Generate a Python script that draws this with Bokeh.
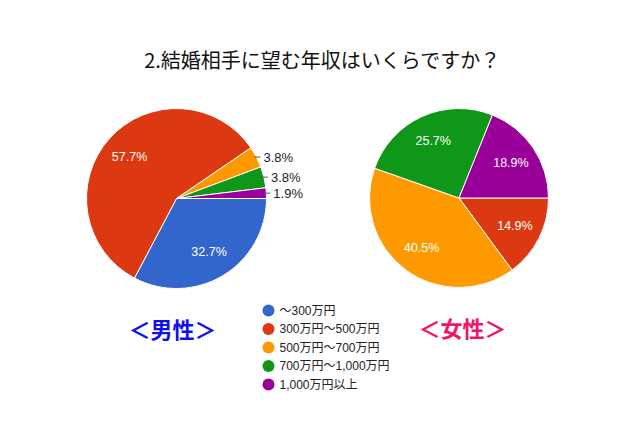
import math
from bokeh.plotting import figure
from bokeh.models import Range1d, ColumnDataSource
from bokeh.core.properties import value
from bokeh.embed import file_html
from bokeh.resources import INLINE

title_text = "2.結婚相手に望む年収はいくらですか？"
categories = ["〜300万円", "300万円〜500万円", "500万円〜700万円", "700万円〜1,000万円", "1,000万円以上"]
colors = ["#3366cc", "#dc3912", "#ff9900", "#109618", "#990099"]
male = [32.7, 57.7, 3.8, 3.8, 1.9]
female = [0.0, 14.9, 40.5, 25.7, 18.9]
group_labels = ["＜男性＞", "＜女性＞"]
group_colors = ["#1010ee", "#f0146c"]

W, H = 624, 411
p = figure(width=W, height=H, output_backend="svg", toolbar_location=None,
           x_range=Range1d(0, W), y_range=Range1d(0, H), min_border=0)
p.axis.visible = False
p.grid.visible = False
p.outline_line_color = None
p.background_fill_color = "white"
p.border_fill_color = "white"

LAT = "Liberation Sans"
JP = "Liberation Sans, Noto Sans CJK JP"

def px(X, Y):
    return X, H - Y

def draw_pie(vals, cxs, cys, r):
    cx, cy = px(cxs, cys)
    total = sum(vals)
    cum = 0.0
    wx, wy, st, en, col = [], [], [], [], []
    inner = dict(x=[], y=[], t=[])
    outer = dict(x=[], y=[], t=[])
    lx0, lx1, ly = [], [], []
    for v, c in zip(vals, colors):
        if v <= 0:
            continue
        a0 = cum / total * 2 * math.pi
        cum += v
        a1 = cum / total * 2 * math.pi
        wx.append(cx); wy.append(cy)
        st.append(-a0); en.append(-a1); col.append(c)
        mid = -(a0 + a1) / 2
        lab = f"{v:.1f}%"
        if v >= 10:
            inner["x"].append(cx + 0.7 * r * math.cos(mid))
            inner["y"].append(cy + 0.7 * r * math.sin(mid))
            inner["t"].append(lab)
        else:
            ex = cx + r * math.cos(mid)
            ey = cy + r * math.sin(mid)
            lx0.append(ex - 2); lx1.append(ex + 4); ly.append(ey)
            outer["x"].append(ex + 7); outer["y"].append(ey); outer["t"].append(lab)
    p.wedge(x=wx, y=wy, radius=r, start_angle=st, end_angle=en, direction="clock",
            fill_color=col, line_color="white", line_width=1)
    p.text(x="x", y="y", text="t", source=ColumnDataSource(inner), text_color="white",
           text_font=value(LAT), text_font_size="12.5px", text_align="center",
           text_baseline="middle")
    if lx0:
        p.segment(x0=lx0, y0=ly, x1=lx1, y1=ly, line_color="#555555", line_width=1)
        p.text(x="x", y="y", text="t", source=ColumnDataSource(outer), text_color="#222222",
               text_font=value(LAT), text_font_size="13px", text_align="left",
               text_baseline="middle")

draw_pie(male, 176, 198, 90)
draw_pie(female, 458.5, 197.5, 89.5)

# title
tx, ty = px(322, 59)
p.text(x=[tx], y=[ty], text=[title_text], text_color="#111111",
       text_font=value("Noto Sans CJK JP"), text_font_size="20px",
       text_align="center", text_baseline="middle")

# group labels
gx = [px(172, 327)[0], px(462, 326)[0]]
gy = [px(172, 327)[1], px(462, 326)[1]]
p.text(x=gx, y=gy, text=group_labels, text_color=group_colors,
       text_font=value("Noto Sans CJK JP"), text_font_size="22px",
       text_font_style="bold", text_align="center", text_baseline="middle")

# legend
lgx, lgy0 = px(268, 310)
step = 18.5
ly = [lgy0 - i * step for i in range(len(categories))]
p.scatter(x=[lgx] * len(categories), y=ly, size=12, fill_color=colors, line_color=None)
p.text(x=[lgx + 11] * len(categories), y=ly, text=categories, text_color="#222222",
       text_font=value(JP), text_font_size="12px", text_align="left",
       text_baseline="middle")

open("out.html", "w").write(file_html(p, INLINE))
